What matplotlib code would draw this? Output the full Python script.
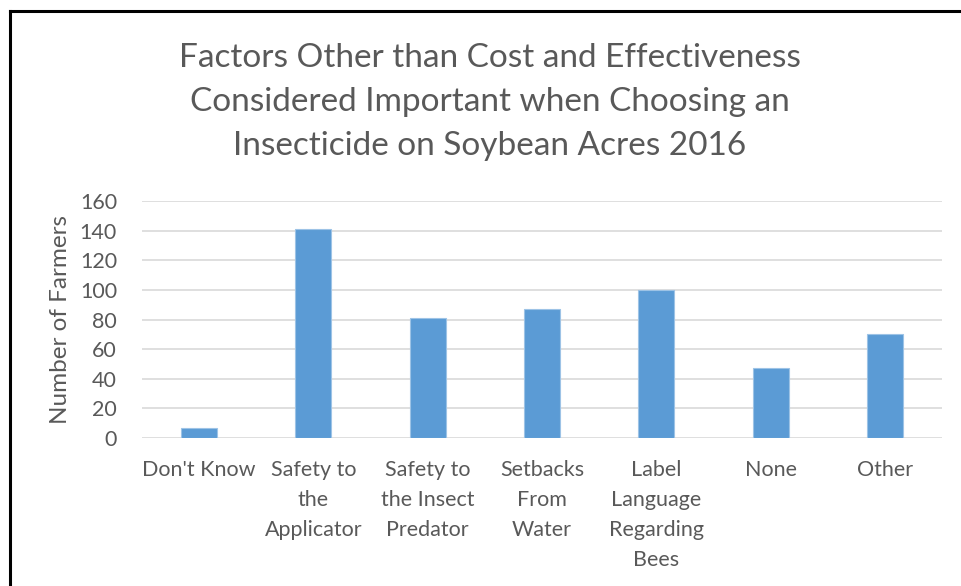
import matplotlib.pyplot as plt
from matplotlib.lines import Line2D

categories = ["Don't Know", "Safety to\nthe\nApplicator", "Safety to\nthe Insect\nPredator",
              "Setbacks\nFrom\nWater", "Label\nLanguage\nRegarding\nBees", "None", "Other"]
farmers = [7, 141, 81, 87, 100, 47, 70]
y_ticks = [0, 20, 40, 60, 80, 100, 120, 140, 160]

W, H = 961, 586
plt.rcParams['font.family'] = ['Lato', 'DejaVu Sans']
text_color = '#595959'

fig = plt.figure(figsize=(W / 100, H / 100), dpi=100)
ax = fig.add_axes([142 / W, (H - 438) / H, 800 / W, 237 / H])

x = range(len(categories))
ax.bar(x, farmers, width=0.315, color='#5B9BD5', edgecolor='#9DC3E6', linewidth=0.8, zorder=3)

ax.set_xlim(-0.5, len(categories) - 0.5)
ax.set_ylim(0, 160)
ax.set_yticks(y_ticks)
ax.set_xticks(list(x))
ax.set_xticklabels(categories, fontsize=15.5, color=text_color, linespacing=1.63)
ax.tick_params(axis='x', length=0, pad=16)
ax.tick_params(axis='y', length=0, pad=18, labelsize=15.5, labelcolor=text_color)
ax.yaxis.grid(True, color='#D9D9D9', linewidth=1.2, zorder=0)
for s in ax.spines.values():
    s.set_visible(False)
ax.set_ylabel('Number of Farmers', fontsize=17.5, color=text_color, labelpad=6)

fig.text(490 / W, 1 - 102 / H,
         'Factors Other than Cost and Effectiveness\nConsidered Important when Choosing an\nInsecticide on Soybean Acres 2016',
         ha='center', va='center', fontsize=24, color=text_color, linespacing=1.6)

# frame lines on the left and top
fig.add_artist(Line2D([10 / W, 10 / W], [0, 1 - 11 / H], transform=fig.transFigure, color='black', linewidth=2.2))
fig.add_artist(Line2D([10 / W, 1], [1 - 11 / H, 1 - 11 / H], transform=fig.transFigure, color='black', linewidth=2.2))

fig.savefig('out.png', dpi=100)
